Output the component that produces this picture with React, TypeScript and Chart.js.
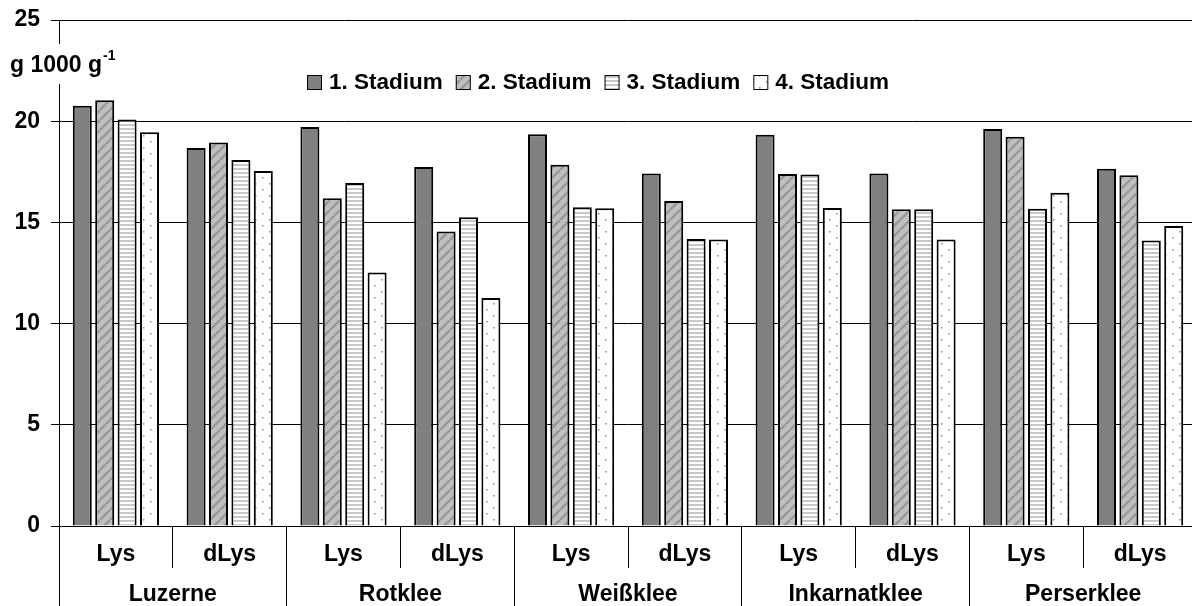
import React, { useEffect, useRef } from 'react';
import { Chart, registerables } from 'chart.js';

Chart.register(...registerables);

// ---- Data ----
const species = ['Luzerne', 'Rotklee', 'Weißklee', 'Inkarnatklee', 'Perserklee'];
const forms = ['Lys', 'dLys'];
const categories = species.flatMap(() => forms);
const seriesNames = ['1. Stadium', '2. Stadium', '3. Stadium', '4. Stadium'];
const stage1 = [20.76, 18.67, 19.71, 17.74, 19.35, 17.42, 19.33, 17.41, 19.61, 17.65];
const stage2 = [21.04, 18.95, 16.19, 14.55, 17.85, 16.06, 17.39, 15.65, 19.23, 17.33];
const stage3 = [20.09, 18.08, 16.95, 15.25, 15.75, 14.18, 17.37, 15.65, 15.68, 14.10];
const stage4 = [19.46, 17.54, 12.52, 11.27, 15.70, 14.15, 15.71, 14.15, 16.47, 14.82];
const yMin = 0;
const yMax = 25;
const yStep = 5;
const yTitle = 'g 1000 g';
const yTitleSup = '-1';

const FONT = '"Liberation Sans", Arial, sans-serif';

function makePattern(kind: number): CanvasPattern | string {
  const c = document.createElement('canvas');
  const g = c.getContext('2d')!;
  if (kind === 0) return '#808080';
  if (kind === 1) {
    const s = 10;
    c.width = s; c.height = s;
    g.fillStyle = '#c0c0c0';
    g.fillRect(0, 0, s, s);
    g.strokeStyle = '#9a9a9a';
    g.lineWidth = 2.6;
    for (let k = -1; k <= 1; k++) {
      g.beginPath();
      g.moveTo(k * s, s);
      g.lineTo(k * s + s, 0);
      g.stroke();
    }
  } else if (kind === 2) {
    c.width = 4; c.height = 4;
    g.fillStyle = '#ffffff';
    g.fillRect(0, 0, 4, 4);
    g.fillStyle = '#c8c8c8';
    g.fillRect(0, 0, 4, 2);
  } else {
    c.width = 14; c.height = 12;
    g.fillStyle = '#ffffff';
    g.fillRect(0, 0, 14, 12);
    g.fillStyle = '#8a8a8a';
    g.fillRect(3, 3, 1.5, 1.5);
    g.fillRect(10, 9, 1.5, 1.5);
  }
  return g.createPattern(c, 'repeat')!;
}

const overlayPlugin = {
  id: 'overlay',
  afterDraw(chart: any) {
    const { ctx, chartArea, scales, height } = chart;
    const x = scales.x;
    const bottom = chartArea.bottom;
    ctx.save();
    // separators
    const n = categories.length;
    const bounds: number[] = [];
    for (let i = 0; i <= n; i++) {
      let px: number;
      if (i === 0) px = chartArea.left;
      else if (i === n) px = chartArea.right;
      else px = (x.getPixelForValue(i - 1) + x.getPixelForValue(i)) / 2;
      bounds.push(px);
    }
    ctx.strokeStyle = '#000';
    ctx.lineWidth = 1;
    bounds.forEach((px, i) => {
      const xx = Math.floor(px) + 0.5;
      ctx.beginPath();
      ctx.moveTo(xx, bottom);
      ctx.lineTo(xx, i % 2 === 0 ? height : bottom + 42);
      ctx.stroke();
    });
    // x labels
    ctx.fillStyle = '#000';
    ctx.font = `bold 23px ${FONT}`;
    ctx.textAlign = 'center';
    ctx.textBaseline = 'middle';
    categories.forEach((lab, i) => ctx.fillText(lab, x.getPixelForValue(i), bottom + 29));
    species.forEach((s, j) => ctx.fillText(s, (bounds[2 * j] + bounds[2 * j + 2]) / 2, bottom + 69));

    // y title (breaks the axis line)
    ctx.fillStyle = '#fff';
    ctx.fillRect(50, 44, 20, 40);
    ctx.fillStyle = '#000';
    ctx.textAlign = 'left';
    ctx.font = `bold 23px ${FONT}`;
    ctx.fillText(yTitle, 10, 66);
    const w = ctx.measureText(yTitle).width;
    ctx.font = `bold 14px ${FONT}`;
    ctx.fillText(yTitleSup, 10 + w + 1, 56);

    // legend
    let lx = 307;
    const ly = 82;
    chart.data.datasets.forEach((ds: any) => {
      ctx.fillStyle = ds.backgroundColor;
      ctx.fillRect(lx, ly - 7, 15, 15);
      ctx.strokeStyle = '#000';
      ctx.lineWidth = 1;
      ctx.strokeRect(lx + 0.5, ly - 6.5, 14, 14);
      ctx.fillStyle = '#000';
      ctx.font = `bold 22.5px ${FONT}`;
      ctx.textAlign = 'left';
      ctx.fillText(ds.label, lx + 22, ly + 1);
      lx += 22 + ctx.measureText(ds.label).width + 13;
    });
    ctx.restore();
  },
};

export default function App() {
  const ref = useRef<HTMLCanvasElement>(null);
  useEffect(() => {
    document.body.style.margin = '0';
    Chart.defaults.font.family = FONT;
    const seriesValues = [stage1, stage2, stage3, stage4];
    const chart = new Chart(ref.current!, {
      type: 'bar',
      data: {
        labels: categories,
        datasets: seriesValues.map((vals, k) => ({
          label: seriesNames[k],
          data: vals,
          backgroundColor: makePattern(k) as any,
          borderColor: '#000',
          borderWidth: 2,
          categoryPercentage: 0.7875,
          barPercentage: 0.848,
        })),
      },
      options: {
        responsive: false,
        animation: false,
        devicePixelRatio: 1,
        layout: { padding: { top: 20, right: 0, left: 0, bottom: 0 } },
        plugins: { legend: { display: false }, tooltip: { enabled: false } },
        scales: {
          x: {
            ticks: { display: false },
            grid: { display: false },
            border: { color: '#000', width: 1 },
            afterFit: (s: any) => { s.height = 80; },
          },
          y: {
            min: yMin,
            max: yMax,
            ticks: { stepSize: yStep, color: '#000', font: { size: 23, weight: 'bold' }, padding: 11 },
            grid: { color: '#000', lineWidth: 1, tickLength: 8 },
            border: { color: '#000', width: 1 },
            afterFit: (s: any) => { s.width = 59; s.paddingTop = 0; s.paddingBottom = 0; },
          },
        },
      },
      plugins: [overlayPlugin],
    });
    return () => chart.destroy();
  }, []);
  return (
    <div style={{ width: 1192, height: 606, overflow: 'hidden', background: '#fff' }}>
      <canvas ref={ref} width={1197} height={606} style={{ display: 'block' }} />
    </div>
  );
}
